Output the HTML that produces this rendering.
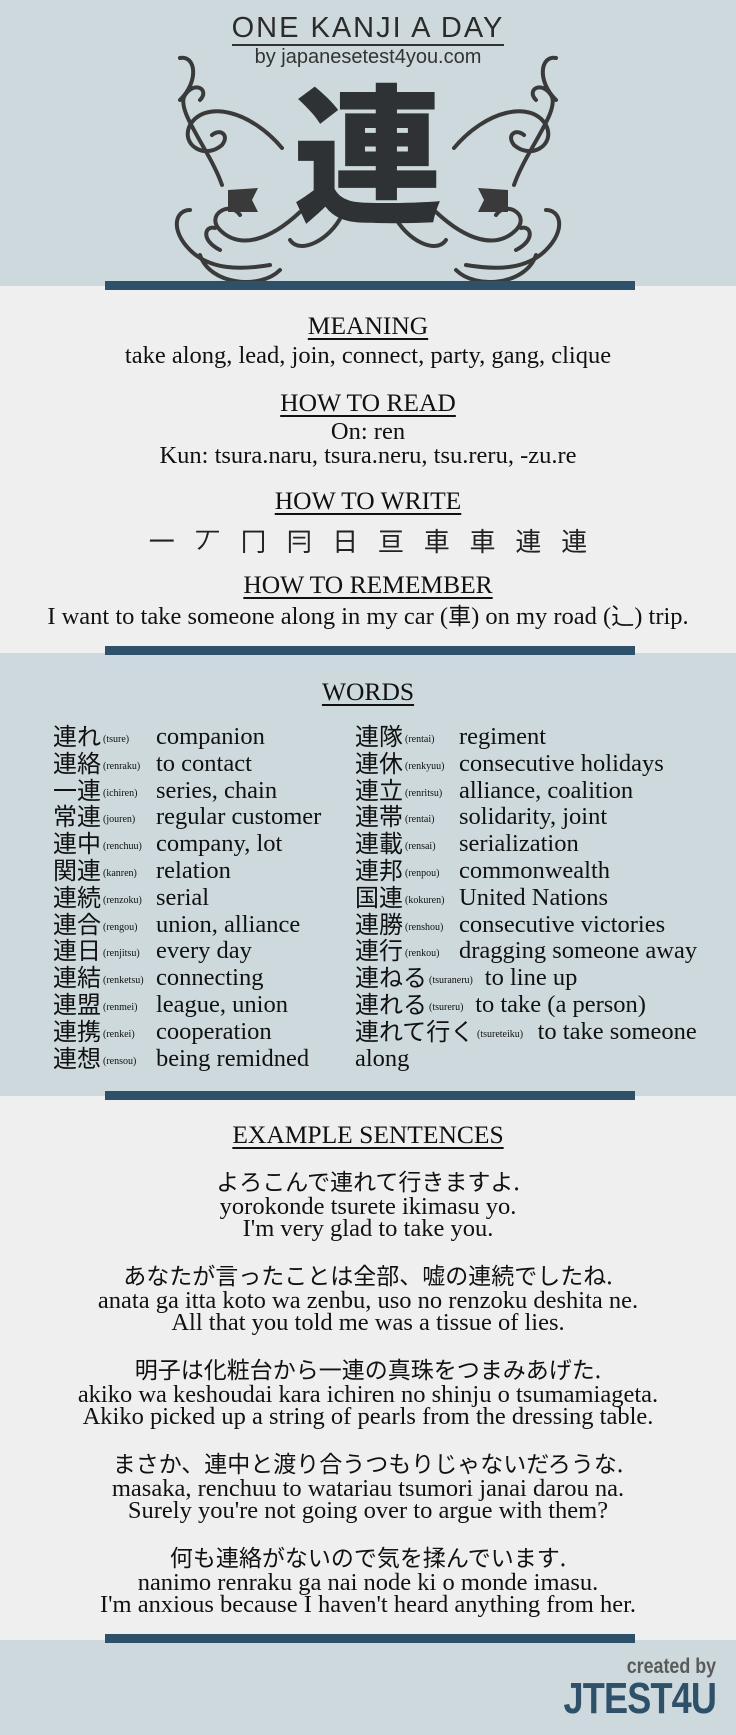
<!DOCTYPE html>
<html><head><meta charset="utf-8">
<style>
*{margin:0;padding:0;box-sizing:border-box}
body{width:736px;height:1735px;position:relative;background:#efefef;font-family:"Liberation Serif","Noto Serif CJK SC","Noto Sans CJK JP",serif;color:#111;overflow:hidden}
.sec{position:absolute;left:0;width:736px}
.blue{background:#cdd9dc}
.bar{position:absolute;left:105px;width:530px;height:9px;background:#2e5068}
.c{position:absolute;left:0;width:736px;text-align:center;white-space:nowrap;line-height:1}
.h{font-size:25.5px;text-decoration:underline;text-underline-offset:4px;text-decoration-thickness:1.5px}
.t{font-size:24.5px}
.jp{font-family:"Noto Sans CJK JP",sans-serif;font-size:23px}
.row{position:absolute;white-space:nowrap;line-height:1}
.k{font-family:"Noto Sans CJK JP",sans-serif;font-size:24px;position:absolute;left:0}
.r{font-size:10px;position:absolute}
.m{font-size:24.5px;position:absolute}
</style></head><body>
<div class="sec blue" style="top:0;height:286px"></div>
<div class="sec blue" style="top:653px;height:443px"></div>
<div class="sec blue" style="top:1640px;height:95px"></div>

<div class="c" style="top:14px;font-family:'Liberation Sans',sans-serif;font-size:29px;letter-spacing:2px;color:#2b2b2b"><span style="border-bottom:2px solid #333;padding-bottom:0">ONE KANJI A DAY</span></div>
<div class="c" style="top:47px;font-family:'Liberation Sans',sans-serif;font-size:20px;color:#333">by japanesetest4you.com</div>

<svg style="position:absolute;left:0;top:0" width="736" height="290" viewBox="0 0 736 290" fill="none" stroke="#3a3a3a" stroke-width="4" stroke-linecap="round">
<g id="L">
<path d="M282 148 C250 110 205 100 190 125 C180 145 205 160 222 145 C230 135 220 128 212 135"/>
<path d="M222 185 C210 150 175 110 185 95 C195 80 210 90 200 100"/>
<path d="M180 100 C200 80 195 55 180 58"/>
<path d="M300 212 C270 240 240 250 220 230 C205 215 230 200 240 215"/>
<path d="M270 265 C240 270 210 270 190 250 C170 230 175 210 190 210"/>
<path d="M200 255 C210 285 260 290 280 270"/>
<path d="M220 250 C200 240 205 225 215 228"/>
<path d="M342 215 C330 240 300 255 290 240"/>
<path d="M228 190 L258 188 L252 200 L258 212 L228 212 Z" fill="#3a3a3a" stroke="none"/>
</g>
<use href="#L" transform="translate(736,0) scale(-1,1)"/>
</svg>
<div class="c" style="top:72px;font-family:'Noto Sans CJK JP',sans-serif;font-weight:900;font-size:150px;color:#2f3235">連</div>

<div class="bar" style="top:281px"></div>

<div class="c h" style="top:313px">MEANING</div>
<div class="c t" style="top:344px">take along, lead, join, connect, party, gang, clique</div>
<div class="c h" style="top:390px">HOW TO READ</div>
<div class="c t" style="top:420px">On: ren</div>
<div class="c t" style="top:444px">Kun: tsura.naru, tsura.neru, tsu.reru, -zu.re</div>
<div class="c h" style="top:488px">HOW TO WRITE</div>
<div class="c" style="top:528px;font-family:'Noto Sans CJK JP',sans-serif;font-size:26px;word-spacing:14px;color:#222">一 丆 冂 冃 日 亘 車 車 連 連</div>
<div class="c h" style="top:572px">HOW TO REMEMBER</div>
<div class="c t" style="top:603px">I want to take someone along in my car (<span class="jp">車</span>) on my road (<span class="jp">⻌</span>) trip.</div>

<div class="bar" style="top:646px"></div>

<div class="c h" style="top:679px">WORDS</div>
<div id="words"></div>

<div class="bar" style="top:1091px"></div>

<div class="c h" style="top:1122px">EXAMPLE SENTENCES</div>
<div id="ex"></div>

<div class="bar" style="top:1634px"></div>

<div style="position:absolute;right:20px;top:1656px;font-family:'Liberation Sans',sans-serif;font-weight:bold;font-size:21px;color:#5a5a5a;transform:scaleX(0.85);transform-origin:right;line-height:1">created by</div>
<div style="position:absolute;right:20px;top:1677px;font-family:'Liberation Sans',sans-serif;font-weight:bold;font-size:44px;color:#2e5068;transform:scaleX(0.82);transform-origin:right;line-height:1;letter-spacing:-1px">JTEST4U</div>

<script>
const left=[["連れ","(tsure)","companion"],["連絡","(renraku)","to contact"],["一連","(ichiren)","series, chain"],["常連","(jouren)","regular customer"],["連中","(renchuu)","company, lot"],["関連","(kanren)","relation"],["連続","(renzoku)","serial"],["連合","(rengou)","union, alliance"],["連日","(renjitsu)","every day"],["連結","(renketsu)","connecting"],["連盟","(renmei)","league, union"],["連携","(renkei)","cooperation"],["連想","(rensou)","being remidned"]];
const right=[["連隊","(rentai)","regiment"],["連休","(renkyuu)","consecutive holidays"],["連立","(renritsu)","alliance, coalition"],["連帯","(rentai)","solidarity, joint"],["連載","(rensai)","serialization"],["連邦","(renpou)","commonwealth"],["国連","(kokuren)","United Nations"],["連勝","(renshou)","consecutive victories"],["連行","(renkou)","dragging someone away"],["連ねる","(tsuraneru)","to line up"],["連れる","(tsureru)","to take (a person)"],["連れて行く","(tsureteiku)","to take someone"],["","","along"]];
const W=document.getElementById('words');
function addRow(item,x,i,mx){
  const row=document.createElement('div');
  
  
  row.className='row';
  row.style.left=x+'px';row.style.top=(723+i*26.8)+'px';
  const k=document.createElement('span');k.className='k';k.textContent=item[0];
  
  
  row.appendChild(k);
  const kw=item[0].length*24;
  const r=document.createElement('span');r.className='r';r.textContent=item[1];r.style.left=(kw+2)+'px';r.style.top='12px';
  
  
  row.appendChild(r);
  const m=document.createElement('span');m.className='m';m.textContent=item[2];
  let ml=Math.max(mx,kw+2+item[1].length*4.8+3);
  if(!item[0])ml=0;
  m.style.left=ml+'px';m.style.top='2px';
  
  
  row.appendChild(m);
  W.appendChild(row);
}
left.forEach((it,i)=>addRow(it,53,i,103));
right.forEach((it,i)=>addRow(it,355,i,104));

const ex=[["よろこんで連れて行きますよ.","yorokonde tsurete ikimasu yo.","I'm very glad to take you."],
["あなたが言ったことは全部、嘘の連続でしたね.","anata ga itta koto wa zenbu, uso no renzoku deshita ne.","All that you told me was a tissue of lies."],
["明子は化粧台から一連の真珠をつまみあげた.","akiko wa keshoudai kara ichiren no shinju o tsumamiageta.","Akiko picked up a string of pearls from the dressing table."],
["まさか、連中と渡り合うつもりじゃないだろうな.","masaka, renchuu to watariau tsumori janai darou na.","Surely you're not going over to argue with them?"],
["何も連絡がないので気を揉んでいます.","nanimo renraku ga nai node ki o monde imasu.","I'm anxious because I haven't heard anything from her."]];
const E=document.getElementById('ex');
ex.forEach((s,i)=>{
  const y=1169+i*94;
  s.forEach((line,j)=>{
    const d=document.createElement('div');
    
    
    d.className='c '+(j==0?'jp':'t');
    d.style.top=(y+(j==0?0:(j==1?26:48)))+'px';
    d.textContent=line;
    E.appendChild(d);
  });
});
</script>
</body></html>
